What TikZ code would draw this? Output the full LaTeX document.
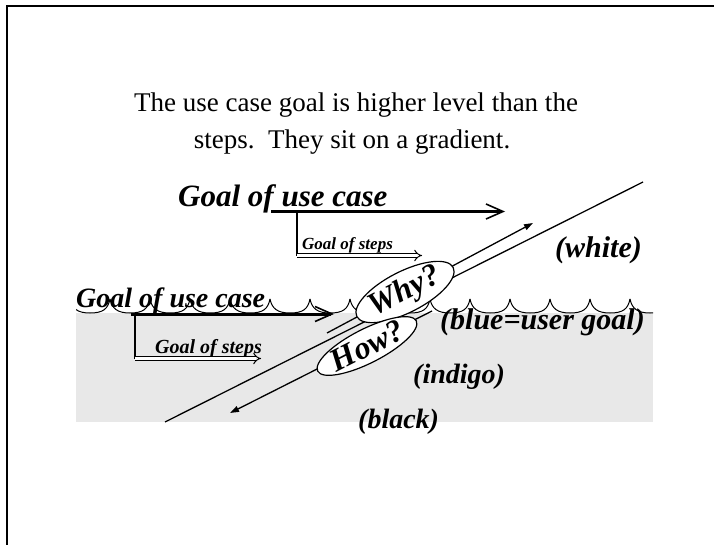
\documentclass[tikz,border=0pt]{standalone}
\usepackage{fontspec}
\setmainfont{Liberation Serif}
\usetikzlibrary{arrows.meta, shapes.geometric}
\definecolor{cband}{HTML}{E8E8E8}
\definecolor{cink}{HTML}{000000}
\tikzset{
  frame/.style={draw=cink, line width=2.2pt},
  band/.style={fill=cband},
  wave/.style={draw=cink, line width=1pt},
  title/.style={font=\fontsize{27}{32}\selectfont, inner sep=0pt},
  goal/.style={font=\fontsize{#1}{#1}\selectfont\bfseries\itshape, inner sep=0pt},
  goal/.default=30,
  goalarrow/.style={draw=cink, line width=3pt, -{Straight Barb[length=17pt, width=15pt, line width=1.6pt]}},
  stem/.style={draw=cink, line width=1.3pt},
  steparrow/.style={draw=cink, line width=1pt, double, double distance=3pt, -{Implies[length=9pt, width=12pt]}},
  gradline/.style={draw=cink, line width=1.3pt},
  tip/.style={-{Triangle[length=9pt, width=6pt]}},
  bubble/.style={ellipse, draw=cink, fill=white, line width=1.2pt, minimum width=98pt, minimum height=34pt, inner sep=0pt, rotate=27, font=\fontsize{32}{32}\selectfont\bfseries\itshape},
}

\begin{document}
\begin{tikzpicture}[x=1pt, y=-1pt]
  \useasboundingbox (0,0) rectangle (714,545);
  % grey band and slide frame
  \fill[band] (76,313) rectangle (653,422);
  \draw[frame] (7,545) -- (7,6) -- (714,6);
  % title
  \node[title, anchor=base] (title1) at (356,112) {The use case goal is higher level than the};
  \node[title, anchor=base] (title2) at (352,149) {steps.\ \ They sit on a gradient.};
  % surface of the sea
  \begin{scope}
    \clip (76,290) rectangle (653,316);
    \foreach \x in {70,110,...,630}
      \draw[wave] (\x,299) .. controls (\x+2,309) and (\x+8,313) .. (\x+20,313)
                           .. controls (\x+33,313) and (\x+38,309) .. (\x+40,299);
  \end{scope}
  % upper goal
  \node[goal=31, anchor=base west] (ucTop) at (178,207) {Goal of use case};
  \coordinate (ucTopS) at (271,211.5);
  \coordinate (ucTopE) at (505,211.5);
  \draw[goalarrow] (ucTopS) -- (ucTopE);
  \node[goal=17, anchor=base west] (stTop) at (302,250) {Goal of steps};
  \coordinate (stTopS) at (297,211.5);
  \coordinate (stTopC) at (297,255.5);
  \coordinate (stTopE) at (422,255.5);
  \draw[stem] (stTopS) -- (stTopC);
  \draw[steparrow] (stTopC) -- (stTopE);
  % lower goal
  \node[goal=28, anchor=base west] (ucLow) at (76,307) {Goal of use case};
  \coordinate (ucLowS) at (131,314);
  \coordinate (ucLowE) at (334,314);
  \draw[goalarrow] (ucLowS) -- (ucLowE);
  \node[goal=20, anchor=base west] (stLow) at (155,353) {Goal of steps};
  \coordinate (stLowS) at (135,314);
  \coordinate (stLowC) at (135,358.5);
  \coordinate (stLowE) at (261,358.5);
  \draw[stem] (stLowS) -- (stLowC);
  \draw[steparrow] (stLowC) -- (stLowE);
  % gradient
  \coordinate (gradLow) at (165,422);
  \coordinate (gradHigh) at (643,182);
  \draw[gradline] (gradLow) -- (gradHigh);
  \coordinate (whyS) at (327,333);
  \coordinate (whyE) at (533,223);
  \draw[gradline, tip] (whyS) -- (whyE);
  \coordinate (howS) at (432,311);
  \coordinate (howE) at (230,413);
  \draw[gradline, tip] (howS) -- (howE);
  \node[bubble] (why) at (405,292) {Why?};
  \node[bubble] (how) at (367,346) {How?};
  % levels
  \node[goal=30, anchor=base west] (lvWhite) at (555,258) {(white)};
  \node[goal=30, anchor=base west] (lvBlue) at (440,329) {(blue=user goal)};
  \node[goal=28, anchor=base west] (lvIndigo) at (413,383) {(indigo)};
  \node[goal=28, anchor=base west] (lvBlack) at (358,428) {(black)};
\end{tikzpicture}
\end{document}
